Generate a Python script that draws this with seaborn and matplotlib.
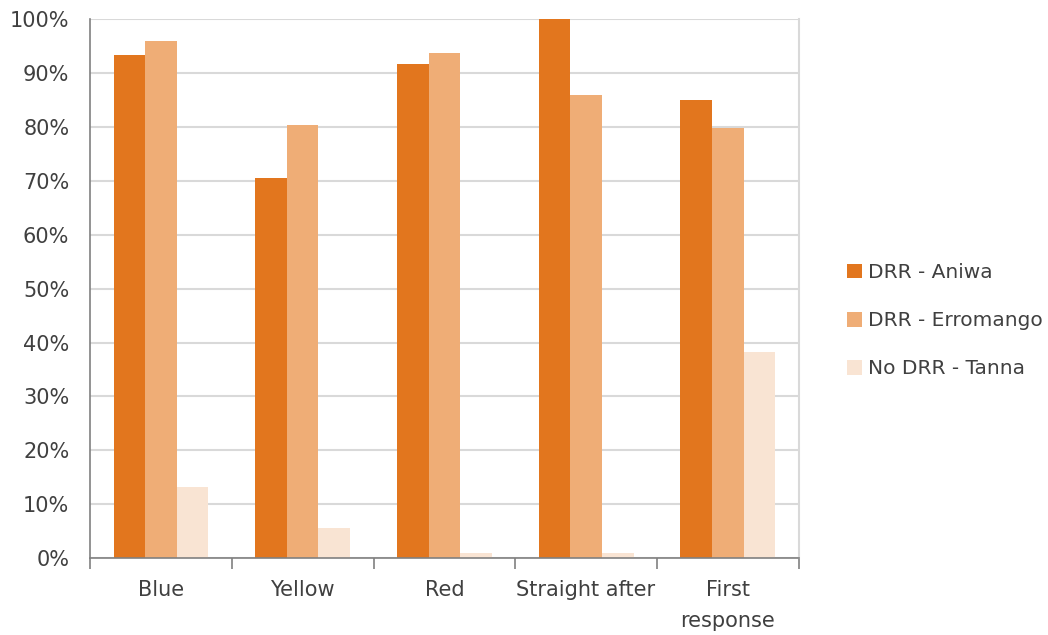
import pandas as pd
import matplotlib.pyplot as plt
import seaborn as sns
from matplotlib.ticker import FuncFormatter, FixedLocator

# Data
categories = ["Blue", "Yellow", "Red", "Straight after", "First\nresponse"]
aniwa = [93.3, 70.5, 91.7, 100.0, 85.0]
erromango = [95.9, 80.3, 93.7, 85.9, 79.8]
tanna = [13.2, 5.6, 0.9, 0.9, 38.2]
series = ["DRR - Aniwa", "DRR - Erromango", "No DRR - Tanna"]
colors = ["#E2761E", "#EFAD76", "#F9E4D3"]

df = pd.DataFrame({
    "Category": categories * 3,
    "Series": [series[0]] * 5 + [series[1]] * 5 + [series[2]] * 5,
    "Value": aniwa + erromango + tanna,
})

sns.set_style("white")
plt.rcParams["font.family"] = ["DejaVu Sans"]
text_color = "#404040"

fig = plt.figure(figsize=(10.48, 6.35), dpi=100)
ax = fig.add_axes([0.086, 0.121, 0.676, 0.849])

sns.barplot(
    data=df,
    x="Category",
    y="Value",
    hue="Series",
    palette=colors,
    width=0.67,
    gap=0,
    saturation=1,
    edgecolor="none",
    ax=ax,
)

ax.set_ylim(0, 100)
ax.set_xlim(-0.5, 4.5)
ax.set_yticks(range(0, 101, 10))
ax.yaxis.set_major_formatter(FuncFormatter(lambda v, p: f"{int(v)}%"))
ax.yaxis.grid(True, color="#D9D9D9", linewidth=1.5)
ax.set_axisbelow(True)

# tick marks between categories
ax.xaxis.set_minor_locator(FixedLocator([i - 0.5 for i in range(6)]))
ax.tick_params(axis="x", which="major", length=0, pad=16, labelsize=15, labelcolor=text_color)
ax.tick_params(axis="x", which="minor", length=8, width=1.2, color="#808080", direction="out", bottom=True)
ax.tick_params(axis="y", length=0, labelsize=15, labelcolor=text_color, pad=15)
for lbl in ax.get_xticklabels():
    lbl.set_linespacing(1.65)

for side in ["left", "bottom"]:
    ax.spines[side].set_color("#808080")
    ax.spines[side].set_linewidth(1.2)
ax.spines["right"].set_color("#D9D9D9")
ax.spines["right"].set_linewidth(1.5)
ax.spines["top"].set_visible(False)

ax.set_xlabel("")
ax.set_ylabel("")

handles, labels = ax.get_legend_handles_labels()
ax.legend_.remove()
fig.legend(
    handles, labels,
    loc="center left",
    bbox_to_anchor=(0.8045, 0.495),
    frameon=False,
    fontsize=14.5,
    handlelength=0.75,
    handleheight=0.75,
    handletextpad=0.3,
    borderaxespad=0,
    borderpad=0.2,
    labelspacing=1.45,
    labelcolor=text_color,
)

plt.savefig("out.png", dpi=100)
plt.close()
